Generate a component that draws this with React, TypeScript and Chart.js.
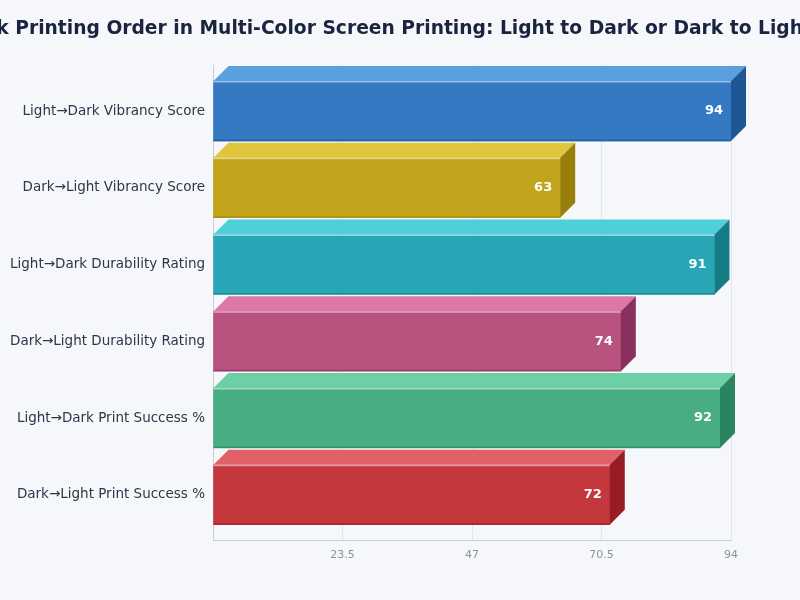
// Horizontal bar chart with a faux-3D extrusion (top and side faces) drawn by a
// small plugin on top of the regular Chart.js bars. The title is drawn by hand
// because the built-in one squeezes text to the canvas width, and this title
// is meant to run off both edges.

import { useEffect, useRef } from "react";
import { Chart, registerables } from "chart.js";

Chart.register(...registerables);

Chart.defaults.font.family = '"DejaVu Sans", sans-serif';

const title =
  "Ink Printing Order in Multi-Color Screen Printing: Light to Dark or Dark to Light";

const categories = [
  "Light→Dark Vibrancy Score",
  "Dark→Light Vibrancy Score",
  "Light→Dark Durability Rating",
  "Dark→Light Durability Rating",
  "Light→Dark Print Success %",
  "Dark→Light Print Success %",
];
const scores = [94, 63, 91, 74, 92, 72];

const frontColors = ["#3479c1", "#c2a41c", "#29a6b6", "#b8527f", "#48ad83", "#c3373d"];
const topColors = ["#5aa0e0", "#e1c63c", "#4ecfd9", "#dc77a7", "#6ccfa5", "#e26167"];
const sideColors = ["#1f5796", "#987e0b", "#157c85", "#8b2f5d", "#2a8460", "#961d23"];

const xMax = 94;
const xStep = 23.5;

const DEPTH = 15;

const wideTitle = {
  id: "wideTitle",
  afterDraw(chart: Chart) {
    const { ctx, width } = chart;
    ctx.save();
    ctx.fillStyle = "#1a2340";
    ctx.font = 'bold 18.7px "DejaVu Sans", sans-serif';
    ctx.textAlign = "center";
    ctx.textBaseline = "alphabetic";
    ctx.fillText(title, width / 2 - 6, 34);
    ctx.restore();
  },
};

const bar3d = {
  id: "bar3d",
  afterDatasetsDraw(chart: Chart) {
    const { ctx } = chart;
    const meta = chart.getDatasetMeta(0);
    meta.data.forEach((el: any, i: number) => {
      const { x, y, base, height } = el.getProps(["x", "y", "base", "height"], true);
      const top = y - height / 2;
      const bottom = y + height / 2;
      ctx.save();
      // top face
      ctx.fillStyle = topColors[i];
      ctx.beginPath();
      ctx.moveTo(base, top);
      ctx.lineTo(base + DEPTH, top - DEPTH);
      ctx.lineTo(x + DEPTH, top - DEPTH);
      ctx.lineTo(x, top);
      ctx.closePath();
      ctx.fill();
      // side face
      ctx.fillStyle = sideColors[i];
      ctx.beginPath();
      ctx.moveTo(x, top);
      ctx.lineTo(x + DEPTH, top - DEPTH);
      ctx.lineTo(x + DEPTH, bottom - DEPTH);
      ctx.lineTo(x, bottom);
      ctx.closePath();
      ctx.fill();
      // light rim on the front face's top edge, darker one at the bottom
      ctx.lineWidth = 1.5;
      ctx.strokeStyle = "rgba(255,255,255,0.5)";
      ctx.beginPath();
      ctx.moveTo(base, top + 0.75);
      ctx.lineTo(x, top + 0.75);
      ctx.stroke();
      ctx.strokeStyle = sideColors[i];
      ctx.globalAlpha = 0.6;
      ctx.beginPath();
      ctx.moveTo(base, bottom - 0.75);
      ctx.lineTo(x, bottom - 0.75);
      ctx.stroke();
      ctx.globalAlpha = 1;
      // value
      ctx.fillStyle = "#ffffff";
      ctx.font = 'bold 13px "DejaVu Sans", sans-serif';
      ctx.textAlign = "right";
      ctx.textBaseline = "middle";
      ctx.fillText(String(scores[i]), x - 8, y);
      ctx.restore();
    });
  },
};

export default function App() {
  const canvasRef = useRef<HTMLCanvasElement>(null);

  useEffect(() => {
    document.body.style.margin = "0";
    document.body.style.background = "#f5f7fb";
    const chart = new Chart(canvasRef.current!, {
      type: "bar",
      data: {
        datasets: [
          {
            data: scores.map((v, i) => ({ x: v, y: i })),
            backgroundColor: frontColors,
            borderWidth: 0,
            barThickness: 60,
          },
        ],
      },
      options: {
        indexAxis: "y",
        responsive: true,
        maintainAspectRatio: false,
        animation: false,
        layout: { padding: { left: 2, right: 69, top: 65, bottom: 30 } },
        plugins: {
          legend: { display: false },
          tooltip: { enabled: false },
          title: { display: false },
        },
        scales: {
          x: {
            type: "linear",
            min: 0,
            max: xMax,
            grid: { color: "#e1e4ea", lineWidth: 1, drawTicks: false },
            border: { color: "#c9ced6" },
            ticks: {
              stepSize: xStep,
              color: "#8b93a1",
              font: { size: 11 },
              padding: 8,
              callback: (v: any) => (v === 0 ? "" : String(v)),
            },
          },
          y: {
            type: "linear",
            reverse: true,
            offset: false,
            min: -0.6,
            max: categories.length - 0.4,
            grid: { display: false, drawTicks: false },
            border: { color: "#c9ced6" },
            afterBuildTicks: (scale: any) => {
              scale.ticks = categories.map((_, i) => ({ value: i }));
            },
            ticks: {
              color: "#2d3748",
              font: { size: 13.5 },
              padding: 8,
              autoSkip: false,
              callback: (v: any) => categories[v] ?? "",
            },
          },
        },
      },
      plugins: [bar3d, wideTitle],
    });
    return () => chart.destroy();
  }, []);

  return (
    <div style={{ width: 800, height: 600, background: "#f5f7fb" }}>
      <canvas ref={canvasRef} />
    </div>
  );
}
